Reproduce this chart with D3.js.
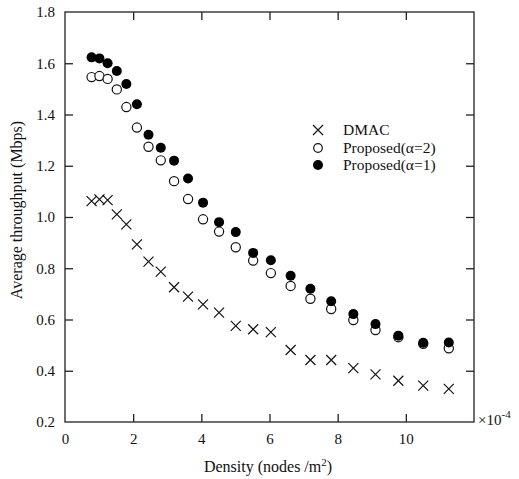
<!DOCTYPE html>
<html>
<head>
<meta charset="utf-8">
<script src="https://cdn.jsdelivr.net/npm/d3@7"></script>
<style>
  html, body { margin: 0; padding: 0; background: #fff; }
  svg { display: block; font-family: "Liberation Serif", "Times New Roman", serif; }
</style>
</head>
<body>
<svg id="chart" width="519" height="479"></svg>
<script>
// Density (x10^-4 nodes/m^2)
const density = [0.78, 1.01, 1.25, 1.52, 1.80, 2.11, 2.45, 2.81, 3.20, 3.61, 4.05, 4.52, 5.01, 5.52, 6.04, 6.62, 7.20, 7.81, 8.46, 9.11, 9.78, 10.51, 11.26];
const dmac      = [1.062, 1.069, 1.066, 1.010, 0.971, 0.893, 0.826, 0.787, 0.726, 0.689, 0.659, 0.627, 0.575, 0.562, 0.551, 0.481, 0.442, 0.442, 0.410, 0.386, 0.361, 0.342, 0.329];
const proposed2 = [1.546, 1.550, 1.539, 1.498, 1.429, 1.349, 1.274, 1.221, 1.140, 1.070, 0.991, 0.943, 0.882, 0.830, 0.781, 0.731, 0.681, 0.641, 0.598, 0.559, 0.531, 0.505, 0.488];
const proposed1 = [1.623, 1.619, 1.600, 1.570, 1.519, 1.440, 1.321, 1.270, 1.220, 1.150, 1.056, 0.980, 0.941, 0.860, 0.831, 0.771, 0.720, 0.671, 0.621, 0.582, 0.537, 0.509, 0.510];
const xTicks = [0, 2, 4, 6, 8, 10];
const yTicks = [0.2, 0.4, 0.6, 0.8, 1.0, 1.2, 1.4, 1.6, 1.8];
const seriesNames = ["DMAC", "Proposed(\u03b1=2)", "Proposed(\u03b1=1)"];

const svg = d3.select("#chart");
const L = 65, R = 474, T = 12, B = 422;
const x = d3.scaleLinear().domain([0, 12]).range([L, R]);
const y = d3.scaleLinear().domain([0.2, 1.8]).range([B, T]);
const axisColor = "#222";
const tickLen = 8;
const serif = '"Liberation Serif", "Times New Roman", serif';

// frame
svg.append("rect").attr("x", L).attr("y", T).attr("width", R - L).attr("height", B - T)
  .attr("fill", "none").attr("stroke", axisColor).attr("stroke-width", 1.3);

// ticks (inward) using axes
const bottomAxis = d3.axisBottom(x).tickValues(xTicks).tickSizeInner(-tickLen).tickSizeOuter(0).tickPadding(11).tickFormat(d3.format("d"));
const gB = svg.append("g").attr("transform", `translate(0,${B})`).call(bottomAxis);
const topAxis = d3.axisTop(x).tickValues(xTicks.slice(1)).tickSizeInner(-tickLen).tickSizeOuter(0).tickFormat("");
const gT = svg.append("g").attr("transform", `translate(0,${T})`).call(topAxis);
const leftAxis = d3.axisLeft(y).tickValues(yTicks).tickSizeInner(-tickLen).tickSizeOuter(0).tickPadding(10).tickFormat(d3.format(".1f"));
const gL = svg.append("g").attr("transform", `translate(${L},0)`).call(leftAxis);
const rightAxis = d3.axisRight(y).tickValues(yTicks.slice(1, -1)).tickSizeInner(-tickLen).tickSizeOuter(0).tickFormat("");
const gR = svg.append("g").attr("transform", `translate(${R},0)`).call(rightAxis);

[gB, gT, gL, gR].forEach(g => {
  g.attr("font-family", serif);
  g.select(".domain").remove();
  g.selectAll(".tick line").attr("stroke", axisColor).attr("stroke-width", 1.3);
  g.selectAll(".tick text").attr("fill", "#111").style("font-size", "15px").style("font-family", serif);
});
gB.selectAll(".tick line").filter(d => d === 0).remove();
gL.selectAll(".tick line").filter(d => d === 0.2 || d === 1.8).remove();

// x10^-4 label
const exp = svg.append("text").attr("x", R + 4).attr("y", 425).attr("fill", "#111")
  .style("font-size", "15px");
exp.append("tspan").text("\u00d710");
exp.append("tspan").attr("dy", -7).style("font-size", "11px").text("-4");

// axis titles
const xt = svg.append("text").attr("x", 268).attr("y", 472).attr("text-anchor", "middle")
  .attr("fill", "#111").style("font-size", "16px");
xt.append("tspan").text("Density (nodes /m");
xt.append("tspan").attr("dy", -6).style("font-size", "11px").text("2");
xt.append("tspan").attr("dy", 6).text(")");

svg.append("text").attr("transform", "translate(22,210) rotate(-90)").attr("text-anchor", "middle")
  .attr("fill", "#111").style("font-size", "16px").text("Average throughput (Mbps)");

// markers
const crossSize = 5;
function drawCross(g, cx, cy) {
  g.append("path")
    .attr("d", `M${cx - crossSize},${cy - crossSize}L${cx + crossSize},${cy + crossSize}M${cx - crossSize},${cy + crossSize}L${cx + crossSize},${cy - crossSize}`)
    .attr("stroke", "#111").attr("stroke-width", 1.2).attr("fill", "none");
}
const gm = svg.append("g");
density.forEach((d, i) => drawCross(gm, x(d), y(dmac[i])));
gm.selectAll("circle.open").data(density).join("circle").attr("class", "open")
  .attr("cx", d => x(d)).attr("cy", (d, i) => y(proposed2[i])).attr("r", 4.6)
  .attr("fill", "#fff").attr("stroke", "#111").attr("stroke-width", 1.2);
gm.selectAll("circle.filled").data(density).join("circle").attr("class", "filled")
  .attr("cx", d => x(d)).attr("cy", (d, i) => y(proposed1[i])).attr("r", 5)
  .attr("fill", "#000");

// legend
const lg = svg.append("g");
const lx = 318, ly = [130, 148, 165];
drawCross(lg, lx, ly[0]);
lg.append("circle").attr("cx", lx).attr("cy", ly[1]).attr("r", 4.3).attr("fill", "#fff").attr("stroke", "#111").attr("stroke-width", 1.2);
lg.append("circle").attr("cx", lx).attr("cy", ly[2]).attr("r", 5).attr("fill", "#000");
seriesNames.forEach((n, i) => {
  lg.append("text").attr("x", 343).attr("y", ly[i] + 5).attr("fill", "#111")
    .style("font-size", "15.5px").text(n);
});
</script>
</body>
</html>
